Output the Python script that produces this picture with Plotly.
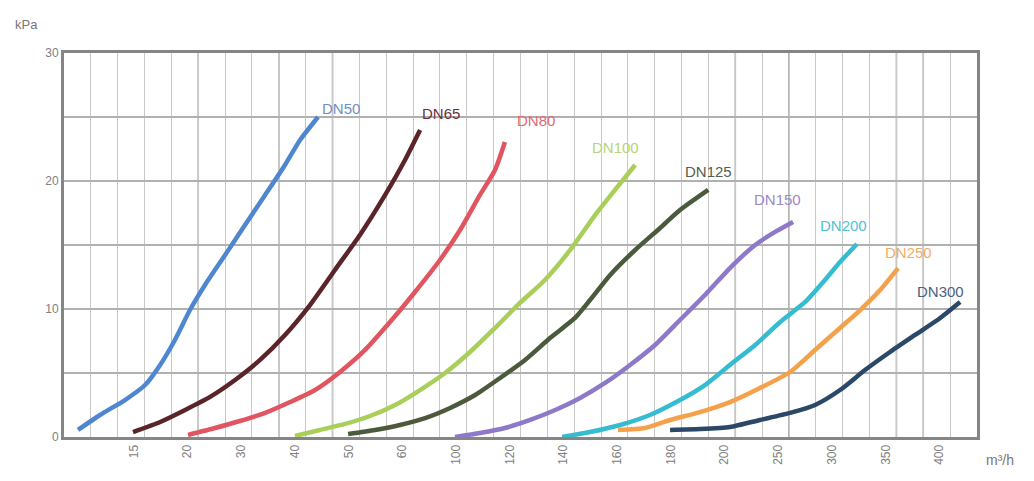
import plotly.graph_objects as go

# x axis is in grid-cell units (34 cells across the chart); flow tick labels sit between gridlines
tick_labels = ["15", "20", "30", "40", "50", "60", "100", "120", "140", "160",
               "180", "200", "250", "300", "350", "400"]
tick_pos = [2.6 + 2 * i for i in range(len(tick_labels))]

names = ["DN50", "DN65", "DN80", "DN100", "DN125", "DN150", "DN200", "DN250", "DN300"]

dn50_x = [0.52, 1.34, 2.27, 3.02, 3.58, 4.13, 4.69, 5.25, 6.00, 6.74, 7.49, 8.23, 8.79, 9.46]
dn50_y = [0.55, 1.72, 2.89, 4.06, 5.63, 7.58, 9.92, 11.88, 14.22, 16.56, 18.91, 21.25, 23.20, 25.0]

dn65_x = [2.57, 3.58, 4.51, 5.44, 6.37, 7.30, 8.23, 9.16, 10.09, 11.02, 11.96, 12.70, 13.26]
dn65_y = [0.39, 1.17, 2.11, 3.13, 4.45, 6.02, 7.97, 10.31, 13.05, 15.78, 18.91, 21.64, 23.98]

dn80_x = [4.62, 5.62, 6.55, 7.49, 8.42, 9.35, 10.28, 11.21, 12.14, 13.07, 14.0, 14.75, 15.49, 16.05, 16.42]
dn80_y = [0.16, 0.70, 1.25, 1.88, 2.73, 3.67, 5.08, 6.80, 8.98, 11.33, 13.83, 16.17, 18.91, 20.86, 23.05]

dn100_x = [8.60, 9.53, 10.47, 11.40, 12.33, 13.26, 14.19, 15.12, 16.05, 16.98, 17.91, 18.85, 19.78, 20.52, 21.27]
dn100_y = [0.08, 0.55, 1.02, 1.64, 2.50, 3.67, 5.0, 6.64, 8.52, 10.47, 12.27, 14.61, 17.34, 19.30, 21.25]

dn125_x = [10.58, 11.58, 12.51, 13.45, 14.38, 15.31, 16.24, 17.17, 18.10, 19.03, 19.59, 20.34, 21.27, 22.20, 22.94, 23.99]
dn125_y = [0.23, 0.55, 0.94, 1.48, 2.27, 3.28, 4.61, 6.02, 7.73, 9.30, 10.70, 12.66, 14.61, 16.33, 17.73, 19.30]

dn150_x = [14.56, 15.49, 16.42, 17.36, 18.29, 19.22, 20.15, 21.08, 22.01, 22.94, 23.87, 24.80, 25.74, 26.48, 27.15]
dn150_y = [0.0, 0.31, 0.70, 1.33, 2.11, 3.05, 4.22, 5.63, 7.19, 9.14, 11.09, 13.20, 15.0, 16.02, 16.80]

dn200_x = [18.55, 19.59, 20.71, 21.82, 22.94, 23.87, 24.80, 25.74, 26.67, 27.60, 28.34, 28.90, 29.53]
dn200_y = [0.0, 0.39, 0.94, 1.72, 2.89, 4.06, 5.63, 7.19, 8.98, 10.55, 12.27, 13.67, 15.08]

dn250_x = [20.63, 21.64, 22.57, 23.69, 24.80, 25.92, 27.04, 27.97, 28.90, 29.65, 30.39, 31.06]
dn250_y = [0.55, 0.70, 1.33, 1.95, 2.73, 3.83, 5.08, 6.80, 8.52, 9.92, 11.48, 13.20]

dn300_x = [22.57, 23.69, 24.80, 25.92, 27.04, 27.97, 28.90, 29.83, 30.76, 31.69, 32.63, 33.37]
dn300_y = [0.55, 0.62, 0.78, 1.33, 1.88, 2.50, 3.67, 5.23, 6.64, 7.97, 9.30, 10.55]

series_x = [dn50_x, dn65_x, dn80_x, dn100_x, dn125_x, dn150_x, dn200_x, dn250_x, dn300_x]
series_y = [dn50_y, dn65_y, dn80_y, dn100_y, dn125_y, dn150_y, dn200_y, dn250_y, dn300_y]

line_colors = ["#4f86d0", "#5a2428", "#e0555f", "#a9cf5a", "#4b5a3c",
               "#8e78c8", "#35bcd0", "#f5a04a", "#2b4868"]
label_colors = ["#6f8fc8", "#6a3036", "#e06a72", "#b5d47a", "#555f48",
                "#9a88cc", "#4ec2d2", "#f2ac6a", "#4a6282"]
# label offsets (px) relative to each curve's end point
label_shift = [(2, 9), (0, 17), (10, 21), (-45, 18), (-25, 18), (-41, 22), (-39, 18), (-15, 16), (-45, 10)]

dark_grid = [5, 8, 10, 25, 27, 31, 32]

fig = go.Figure()
for name, xs, ys, c in zip(names, series_x, series_y, line_colors):
    fig.add_trace(go.Scatter(x=xs, y=ys, mode="lines", name=name,
                             line=dict(color=c, width=4.5, shape="spline", smoothing=0.6),
                             showlegend=False))

for name, xs, ys, c, (dx, dy) in zip(names, series_x, series_y, label_colors, label_shift):
    fig.add_annotation(x=xs[-1], y=ys[-1], text=name, showarrow=False,
                       xanchor="left", yanchor="middle", xshift=dx, yshift=dy,
                       font=dict(family="Liberation Sans, Arial", size=15, color=c))

for gx in dark_grid:
    fig.add_shape(type="line", x0=gx, x1=gx, y0=0, y1=30, xref="x", yref="y",
                  line=dict(color="#9a9a9a", width=1.5), layer="below")

fig.add_annotation(text="kPa", xref="paper", yref="paper", x=-0.056, y=1.075,
                   xanchor="left", yanchor="middle", showarrow=False,
                   font=dict(family="Liberation Sans, Arial", size=13, color="#777777"))
fig.add_annotation(text="m³/h", xref="paper", yref="paper", x=1.008, y=-0.035,
                   xanchor="left", yanchor="top", showarrow=False,
                   font=dict(family="Liberation Sans, Arial", size=14, color="#777777"))

fig.update_xaxes(range=[0, 34], tickmode="array", tickvals=tick_pos, ticktext=tick_labels,
                 tickangle=-90, showgrid=False, zeroline=False,
                 tickfont=dict(family="Liberation Sans, Arial", size=12, color="#808080"),
                 showline=True, linewidth=3, linecolor="#858585", mirror=True,
                 ticks="", ticklen=0,
                 minor=dict(dtick=1, tick0=0, showgrid=True, gridcolor="#c8c8c8", gridwidth=1))
fig.update_yaxes(range=[0, 30], tickmode="array", tickvals=[0, 10, 20, 30],
                 ticktext=["0", "10", "20", "30"], zeroline=False,
                 showgrid=False,
                 tickfont=dict(family="Liberation Sans, Arial", size=12, color="#808080"),
                 showline=True, linewidth=3, linecolor="#858585", mirror=True,
                 ticks="", ticklen=0,
                 minor=dict(dtick=5, tick0=0, showgrid=True, gridcolor="#b0b0b0", gridwidth=1.5))

fig.update_layout(width=1026, height=473, plot_bgcolor="white", paper_bgcolor="white",
                  margin=dict(l=56, r=57, t=45, b=44))

fig.write_html("out.html")
